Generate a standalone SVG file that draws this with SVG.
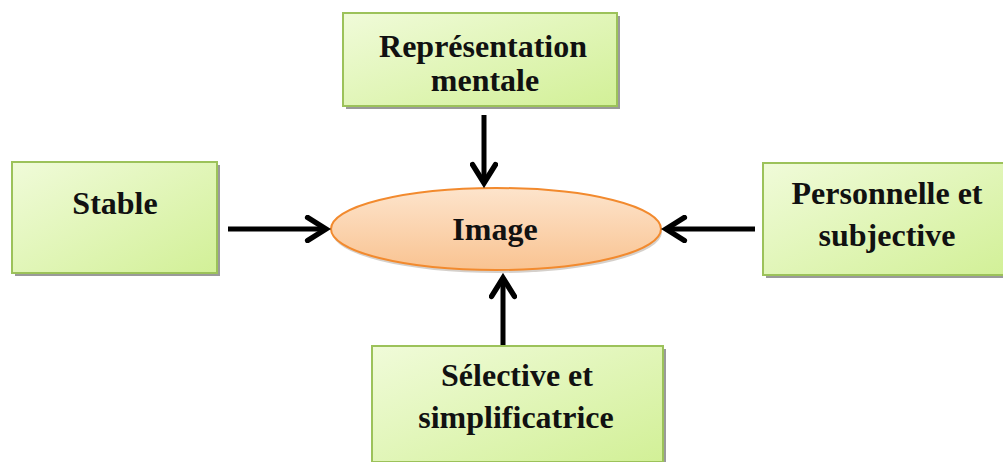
<svg xmlns="http://www.w3.org/2000/svg" width="1003" height="462" viewBox="0 0 1003 462">
<defs>
<linearGradient id="g" x1="0" y1="0" x2="1" y2="1">
<stop offset="0" stop-color="#f0fbd9"/>
<stop offset="1" stop-color="#d2f097"/>
</linearGradient>
<linearGradient id="o" x1="0" y1="0" x2="0" y2="1">
<stop offset="0" stop-color="#fde4cc"/>
<stop offset="1" stop-color="#f9c391"/>
</linearGradient>
<marker id="ah" viewBox="0 0 12 12" refX="10" refY="6" markerWidth="5.5" markerHeight="5.5" orient="auto" markerUnits="strokeWidth">
<path d="M2 1 L10 6 L2 11" fill="none" stroke="#000" stroke-width="2.4" stroke-linecap="round" stroke-linejoin="miter"/>
</marker>
</defs>
<style>
.box{fill:url(#g);stroke:#9cc25a;stroke-width:2}
.sh{fill:#9a9a9a}
.t{font-family:"Liberation Serif","Times New Roman",serif;font-weight:bold;font-size:32px;fill:#111;text-anchor:middle}
.c{stroke:#000;stroke-width:5;fill:none;marker-end:url(#ah)}
</style>
<rect width="1003" height="462" fill="#fff"/>
<g id="node-top">
<rect class="sh" x="346" y="16" width="274" height="93"/>
<rect class="box" x="343" y="13" width="274" height="93"/>
<text class="t" x="483" y="57">Représentation</text>
<text class="t" x="485" y="91">mentale</text>
</g>
<g id="node-left">
<rect class="sh" x="15" y="165" width="205" height="111"/>
<rect class="box" x="12" y="162" width="205" height="111"/>
<text class="t" x="115" y="214">Stable</text>
</g>
<g id="node-right">
<rect class="sh" x="766" y="166" width="240" height="112"/>
<rect class="box" x="763" y="163" width="245" height="112"/>
<text class="t" x="887" y="204">Personnelle et</text>
<text class="t" x="887" y="246">subjective</text>
</g>
<g id="node-bottom">
<rect class="sh" x="375" y="349" width="291" height="116"/>
<rect class="box" x="372" y="346" width="291" height="116"/>
<text class="t" x="517" y="386">Sélective et</text>
<text class="t" x="516" y="428">simplificatrice</text>
</g>
<g id="node-image">
<ellipse cx="497" cy="232" rx="165" ry="41" fill="#b9b0a8" opacity="0.6"/>
<ellipse cx="496" cy="229" rx="165" ry="41" fill="url(#o)" stroke="#f28a2e" stroke-width="2"/>
<text class="t" x="495" y="240">Image</text>
</g>
<g id="connectors">
<line class="c" x1="484" y1="115" x2="484" y2="183"/>
<line class="c" x1="228" y1="229" x2="326" y2="229"/>
<line class="c" x1="755" y1="229" x2="666" y2="229"/>
<line class="c" x1="503" y1="345" x2="503" y2="278"/>
</g>
</svg>
